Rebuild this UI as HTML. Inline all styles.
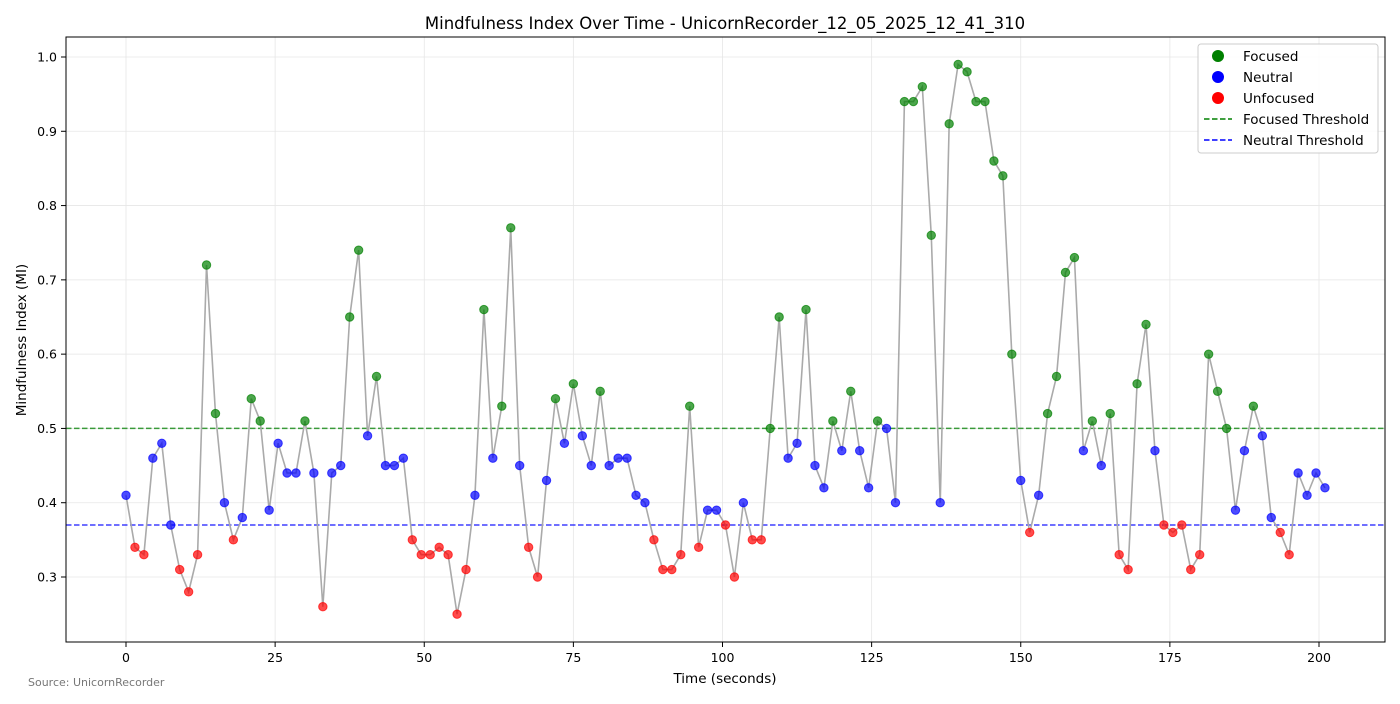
<!DOCTYPE html>
<html><head><meta charset="utf-8"><style>
body{margin:0;background:#fff;font-family:"DejaVu Sans","Liberation Sans",sans-serif}
svg text{font-family:"DejaVu Sans","Liberation Sans",sans-serif}
</style></head><body>
<svg id="chart" width="1400" height="700" xmlns="http://www.w3.org/2000/svg">
<rect width="1400" height="700" fill="#fff"/>
<g id="grid"></g>
<g id="lines"></g>
<g id="pts"></g>
<rect x="66" y="37" width="1319" height="605" fill="none" stroke="#000" stroke-width="1"/>
<g id="axes"></g>
<text x="725" y="29" text-anchor="middle" font-size="16.5">Mindfulness Index Over Time - UnicornRecorder_12_05_2025_12_41_310</text>
<text x="725" y="683" text-anchor="middle" font-size="13.5">Time (seconds)</text>
<text x="26" y="340" text-anchor="middle" font-size="13.5" transform="rotate(-90 26 340)">Mindfulness Index (MI)</text>
<text x="28" y="686" font-size="11" fill="#777">Source: UnicornRecorder</text>
<g>
<rect x="1198" y="44" width="180" height="109" rx="3" fill="#fff" fill-opacity="0.85" stroke="#ccc"/>
<circle cx="1218" cy="56" r="6" fill="green"/>
<text x="1243" y="61" font-size="13.5">Focused</text>
<circle cx="1218" cy="77" r="6" fill="blue"/>
<text x="1243" y="82" font-size="13.5">Neutral</text>
<circle cx="1218" cy="98" r="6" fill="red"/>
<text x="1243" y="103" font-size="13.5">Unfocused</text>
<line x1="1204" y1="119" x2="1232" y2="119" stroke="green" stroke-width="1.5" stroke-dasharray="5.5,2.5"/>
<text x="1243" y="124" font-size="13.5">Focused Threshold</text>
<line x1="1204" y1="140" x2="1232" y2="140" stroke="blue" stroke-width="1.5" stroke-dasharray="5.5,2.5"/>
<text x="1243" y="145" font-size="13.5">Neutral Threshold</text>
</g>
</svg>
<script>
const values=[0.41,0.34,0.33,0.46,0.48,0.37,0.31,0.28,0.33,0.72,0.52,0.40,0.35,0.38,0.54,0.51,0.39,0.48,0.44,0.44,0.51,0.44,0.26,0.44,0.45,0.65,0.74,0.49,0.57,0.45,0.45,0.46,0.35,0.33,0.33,0.34,0.33,0.25,0.31,0.41,0.66,0.46,0.53,0.77,0.45,0.34,0.30,0.43,0.54,0.48,0.56,0.49,0.45,0.55,0.45,0.46,0.46,0.41,0.40,0.35,0.31,0.31,0.33,0.53,0.34,0.39,0.39,0.37,0.30,0.40,0.35,0.35,0.50,0.65,0.46,0.48,0.66,0.45,0.42,0.51,0.47,0.55,0.47,0.42,0.51,0.50,0.40,0.94,0.94,0.96,0.76,0.40,0.91,0.99,0.98,0.94,0.94,0.86,0.84,0.60,0.43,0.36,0.41,0.52,0.57,0.71,0.73,0.47,0.51,0.45,0.52,0.33,0.31,0.56,0.64,0.47,0.37,0.36,0.37,0.31,0.33,0.60,0.55,0.50,0.39,0.47,0.53,0.49,0.38,0.36,0.33,0.44,0.41,0.44,0.42];
const timeStep=1.5;
const xTicks=[0,25,50,75,100,125,150,175,200];
const yTicks=[0.3,0.4,0.5,0.6,0.7,0.8,0.9,1.0];
const focusedThreshold=0.5, neutralThreshold=0.37;
const overrides={5:'N',67:'U',85:'N',116:'U',118:'U'};
const X=t=>126+t*5.965, Y=v=>577-(v-0.3)*742.86;
const NS='http://www.w3.org/2000/svg';
function mk(tag,attrs,parent){const e=document.createElementNS(NS,tag);for(const k in attrs)e.setAttribute(k,attrs[k]);parent.appendChild(e);return e;}
const grid=document.getElementById('grid'),axes=document.getElementById('axes');
xTicks.forEach(t=>{const x=X(t);
 mk('line',{x1:x,x2:x,y1:37,y2:642,stroke:'#e6e6e6','stroke-width':0.8},grid);
 mk('line',{x1:x,x2:x,y1:642,y2:647,stroke:'#000'},axes);
 const tx=mk('text',{x:x,y:662,'text-anchor':'middle','font-size':12.5},axes);tx.textContent=t;
 
 });
yTicks.forEach(v=>{const y=Y(v);
 mk('line',{x1:66,x2:1385,y1:y,y2:y,stroke:'#e6e6e6','stroke-width':0.8},grid);
 mk('line',{x1:61,x2:66,y1:y,y2:y,stroke:'#000'},axes);
 const tx=mk('text',{x:57,y:y+4.5,'text-anchor':'end','font-size':12.5},axes);tx.textContent=v.toFixed(1);
 
 });
const lines=document.getElementById('lines');
const fl=mk('line',{x1:66,x2:1385,y1:Y(focusedThreshold),y2:Y(focusedThreshold),stroke:'green','stroke-width':1.5,'stroke-dasharray':'5.5,2.5',opacity:0.75},lines);


const nl=mk('line',{x1:66,x2:1385,y1:Y(neutralThreshold),y2:Y(neutralThreshold),stroke:'blue','stroke-width':1.5,'stroke-dasharray':'5.5,2.5',opacity:0.75},lines);


const pl=mk('polyline',{points:values.map((v,i)=>X(i*timeStep)+','+Y(v)).join(' '),fill:'none',stroke:'#aaa','stroke-width':1.6},lines);


const pts=document.getElementById('pts');
values.forEach((v,i)=>{let c=overrides[i]||(v>=focusedThreshold?'F':v>neutralThreshold?'N':'U');
 const col={F:'green',N:'blue',U:'red'}[c];
 const p=mk('circle',{cx:X(i*timeStep),cy:Y(v),r:4.2,fill:col,'fill-opacity':0.7,stroke:col,'stroke-opacity':0.7},pts);
 
 });
</script>
</body></html>
